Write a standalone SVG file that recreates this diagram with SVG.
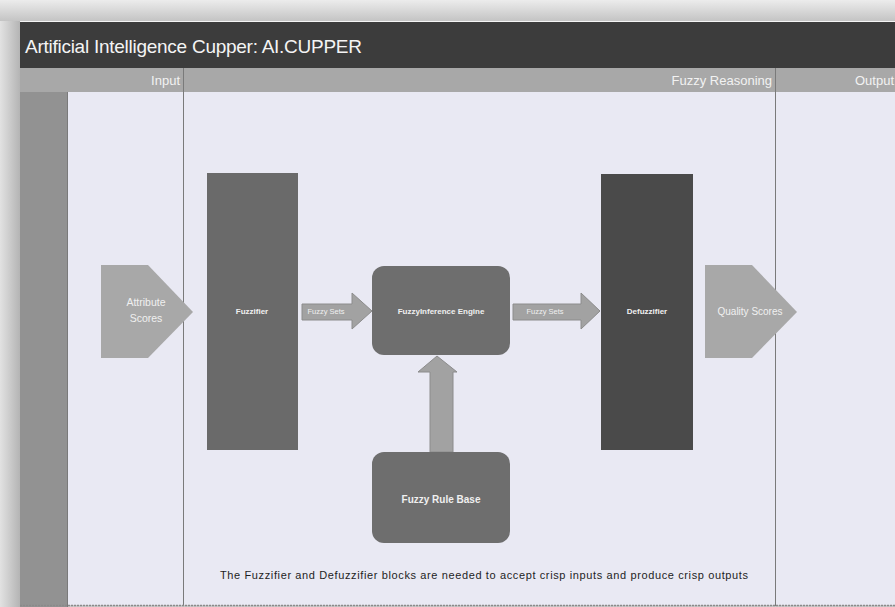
<svg xmlns="http://www.w3.org/2000/svg" width="895" height="607" viewBox="0 0 895 607">
  <defs>
    <linearGradient id="topFade" x1="0" y1="0" x2="0" y2="1">
      <stop offset="0" stop-color="#ececec"/>
      <stop offset="1" stop-color="#c4c4c4"/>
    </linearGradient>
    <linearGradient id="leftFade" x1="0" y1="0" x2="1" y2="0">
      <stop offset="0" stop-color="#e2e2e2"/>
      <stop offset="1" stop-color="#b4b4b4"/>
    </linearGradient>
    <style>
      .hdr { font-family: "Liberation Sans", Arial, sans-serif; font-size: 13px; fill: #f2f2f2; }
      .lbl { font-family: "Liberation Sans", Arial, sans-serif; fill: #f0f0f0; text-anchor: middle; }
      .lane-line { stroke: #7a7a7a; stroke-width: 1; }
      .block { stroke: none; }
      .flow { fill: #a2a2a2; stroke: #8c8c8c; stroke-width: 1; }
      .tag { fill: #a8a8a8; }
    </style>
  </defs>

  <!-- page backdrop -->
  <rect x="0" y="0" width="895" height="607" fill="#c9c9c9"/>
  <rect x="0" y="0" width="895" height="21" fill="url(#topFade)"/>
  <rect x="0" y="21" width="20" height="586" fill="url(#leftFade)"/>

  <!-- title bar -->
  <rect x="20" y="21" width="875" height="47" fill="#3c3c3c"/>
  <line x1="20" y1="21.5" x2="895" y2="21.5" stroke="#f4f4f4" stroke-width="1"/>
  <text x="25" y="53" font-family="'Liberation Sans', Arial, sans-serif" font-size="19" fill="#f4f4f4" textLength="337">Artificial Intelligence Cupper: AI.CUPPER</text>

  <!-- lane header row -->
  <rect x="20" y="68" width="875" height="24" fill="#a8a8a8"/>
  <text class="hdr" x="180" y="85" text-anchor="end">Input</text>
  <text class="hdr" x="772" y="85" text-anchor="end">Fuzzy Reasoning</text>
  <text class="hdr" x="855" y="85">Output</text>

  <!-- lane bodies -->
  <rect x="20" y="92" width="47" height="515" fill="#929292"/>
  <rect x="67" y="92" width="828" height="513" fill="#e9e9f3"/>
  <line class="lane-line" x1="67.5" y1="92" x2="67.5" y2="607"/>
  <line class="lane-line" x1="183.5" y1="68" x2="183.5" y2="606"/>
  <line class="lane-line" x1="775.5" y1="68" x2="775.5" y2="606"/>
  <line x1="20" y1="605.5" x2="895" y2="605.5" stroke="#8a8a8a" stroke-width="1.5" stroke-dasharray="2 1"/>

  <!-- connectors -->
  <g id="connectors">
    <polygon class="flow" points="302,304 352,304 352,293 372,311 352,329 352,320 302,320"/>
    <text class="lbl" x="326" y="314" font-size="7.5">Fuzzy Sets</text>
    <polygon class="flow" points="513,304 581,304 581,293 600,311 581,329 581,320 513,320"/>
    <text class="lbl" x="545" y="314" font-size="7.5">Fuzzy Sets</text>
    <polygon class="flow" points="430,452 430,372 418,372 437,356 457,372 453,372 453,452"/>
  </g>

  <g id="attribute-scores">
    <polygon class="tag" points="101,265 148,265 193,312 148,358 101,358"/>
    <text class="lbl" x="146" y="306" font-size="10.5">Attribute</text>
    <text class="lbl" x="146" y="322" font-size="10.5">Scores</text>
  </g>

  <g id="fuzzifier">
    <rect class="block" x="207" y="173" width="91" height="277" fill="#6a6a6a"/>
    <text class="lbl" x="252" y="314" font-size="8" font-weight="bold">Fuzzifier</text>
  </g>

  <g id="inference-engine">
    <rect class="block" x="372" y="266" width="138" height="89" rx="12" fill="#6e6e6e"/>
    <text class="lbl" x="441" y="314" font-size="8" font-weight="bold">FuzzyInference Engine</text>
  </g>

  <g id="defuzzifier">
    <rect class="block" x="601" y="174" width="92" height="276" fill="#4a4a4a"/>
    <text class="lbl" x="647" y="314" font-size="8" font-weight="bold">Defuzzifier</text>
  </g>

  <g id="quality-scores">
    <polygon class="tag" points="705,265 752,265 797,312 752,358 705,358"/>
    <text class="lbl" x="750" y="315" font-size="10">Quality Scores</text>
  </g>

  <g id="rule-base">
    <rect class="block" x="372" y="452" width="138" height="91" rx="12" fill="#6e6e6e"/>
    <text class="lbl" x="441" y="503" font-size="10" font-weight="bold">Fuzzy Rule Base</text>
  </g>

  <text x="220" y="579" font-family="'Liberation Sans', Arial, sans-serif" font-size="11" fill="#1e1e1e" textLength="528">The Fuzzifier and Defuzzifier blocks are needed to accept crisp inputs and produce crisp outputs</text>
</svg>
